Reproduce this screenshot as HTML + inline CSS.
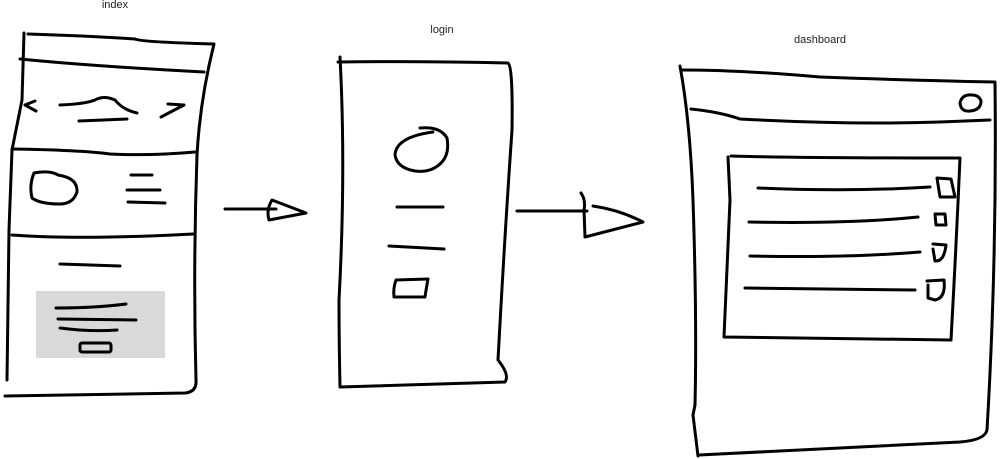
<!DOCTYPE html>
<html><head><meta charset="utf-8"><style>
html,body{margin:0;padding:0;background:#fff;}
svg{display:block;}
text{font-family:"Liberation Sans",sans-serif;font-size:11px;fill:#222;}
path,rect,ellipse{fill:none;stroke:#000;stroke-width:3;stroke-linecap:round;stroke-linejoin:round;}
</style></head><body>
<svg width="1001" height="459" viewBox="0 0 1001 459">
<g>
<text x="115" y="8" text-anchor="middle">index</text>
<path d="M24,33 L22,100 L12,150 L9,230 L7,380"/>
<path d="M28,34 Q90,36 135,39 Q140,42 214,44 Q200,100 197,155 Q193,270 196,380 Q197,392 185,393 L5,396"/>
<path d="M20,59 Q90,66 204,72"/>
<path d="M35,101 L25,105 L36,111"/>
<path d="M168,104 L184,105 L161,117"/>
<path d="M60,105 Q85,104 95,100 Q104,95 115,100 Q123,110 137,113"/>
<path d="M79,121 L127,119"/>
<path d="M12,149 Q80,150 110,154 Q150,156 195,152"/>
<path d="M34,173 Q50,170 58,175 Q78,178 77,192 Q73,204 60,204 Q40,204 32,198 Q29,185 34,173Z"/>
<path d="M131,175 L152,175 M127,190 L160,190 M128,202 L165,203"/>
<path d="M12,235 Q80,240 193,234"/>
<path d="M60,264 L120,266"/>
<rect x="36" y="291" width="129" height="67" style="fill:#d9d9d9;stroke:none"/>
<path d="M56,308 Q95,308 126,304 M58,319 L136,320 M60,328 Q90,332 117,330"/>
<rect x="80" y="343" width="31" height="9" rx="2"/>
</g>
<path d="M225,209 L276,209 M272,200 L306,213 L269,220 Q266,210 272,200Z"/>
<g>
<text x="442" y="33" text-anchor="middle">login</text>
<path d="M338,62 Q420,61 508,63 Q513,66 512,130 Q505,230 498,360 Q510,375 505,382 L340,387 Q339,340 339,300 Q346,170 340,57"/>
<path d="M420,128 Q440,126 447,138 Q450,155 440,164 Q430,173 415,171 Q397,168 395,155 Q396,137 433,132"/>
<path d="M397,207 L443,207"/>
<path d="M389,246 L444,249"/>
<path d="M396,280 L428,279 Q426,290 425,297 L394,297 Q393,288 396,280Z"/>
</g>
<path d="M517,211 L587,211 M581,193 Q586,200 584,210 L585,237 L643,222 Q620,210 593,206"/>
<g>
<text x="820" y="43" text-anchor="middle">dashboard</text>
<path d="M680,66 Q690,120 693,200 Q697,320 695,405 L693,415 L698,456"/>
<path d="M682,70 Q740,70 820,77 Q900,80 995,82 Q997,260 987,430 Q985,440 960,442 L699,455"/>
<path d="M691,109 Q720,112 740,119 Q850,125 940,122 L990,120"/>
<path d="M972,95 Q962,94 960,103 Q961,112 970,111 Q981,110 981,101 Q979,95 972,95"/>
<path d="M731,156 Q800,158 960,158 Q956,250 951,340 L724,337 Q728,250 730,200 L728,157"/>
<path d="M758,188 Q850,192 930,187"/>
<path d="M937,178 L951,179 L955,197 L940,197 Z"/>
<path d="M749,222 Q850,224 918,217"/>
<path d="M935,214 L945,214 L946,225 L936,225 Z"/>
<path d="M750,256 Q850,258 920,252"/>
<path d="M933,244 L946,245 Q944,262 935,261 L933,249"/>
<path d="M745,288 L915,290"/>
<path d="M927,281 L944,280 Q946,298 935,300 L928,298 L928,285"/>
</g>
</svg>
</body></html>
